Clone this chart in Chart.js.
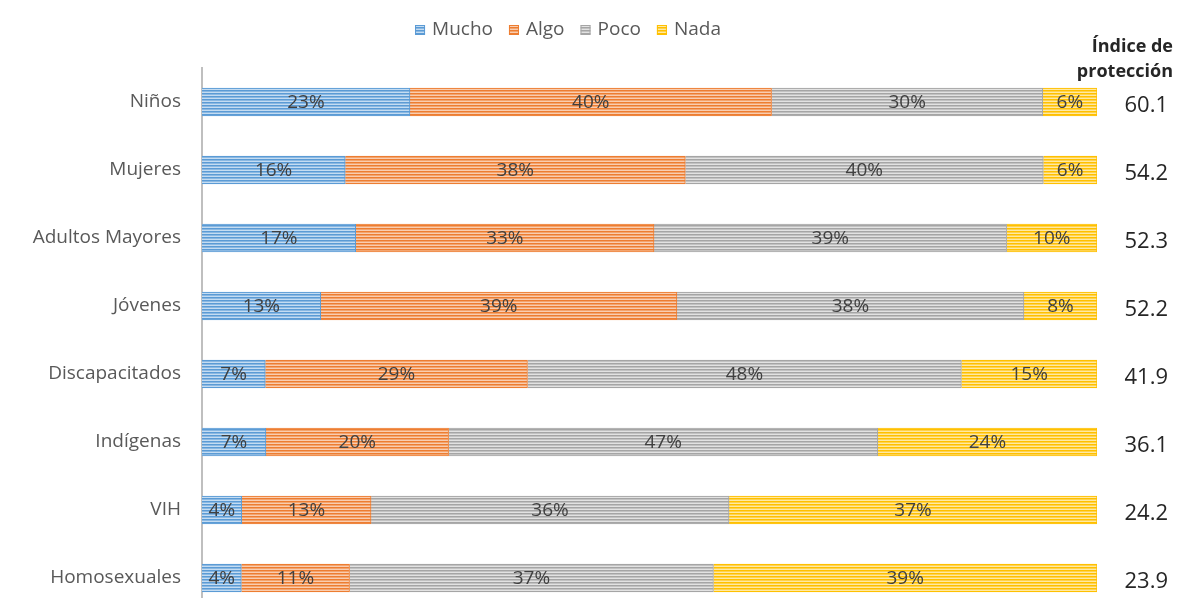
<!DOCTYPE html>
<html>
<head>
<meta charset="utf-8">
<script src="https://cdn.jsdelivr.net/npm/chart.js@4.4.1/dist/chart.umd.min.js"></script>
<style>
  html, body { margin: 0; padding: 0; background: #fff; overflow: hidden; }
  #wrap { position: relative; width: 1178px; height: 620px; }
</style>
</head>
<body>
<div id="wrap"><canvas id="chart"></canvas></div>
<script>
// Data
const groups = ["Niños", "Mujeres", "Adultos Mayores", "Jóvenes", "Discapacitados", "Indígenas", "VIH", "Homosexuales"];
const mucho = [23, 16, 17, 13, 7, 7, 4, 4];
const algo = [40, 38, 33, 39, 29, 20, 13, 11];
const poco = [30, 40, 39, 38, 48, 47, 36, 37];
const nada = [6, 6, 10, 8, 15, 24, 37, 39];
const protectionIndex = [60.1, 54.2, 52.3, 52.2, 41.9, 36.1, 24.2, 23.9];
const seriesNames = ["Mucho", "Algo", "Poco", "Nada"];

const FONT = '"Open Sans", sans-serif';
const baseColors = ["#5b9bd5", "#ed7d31", "#a5a5a5", "#ffc000"];
const midColors = ["#8ab8e2", "#f3a46e", "#c2c2c2", "#ffd24d"];
const lightColors = ["#c4dcf2", "#f9cdb0", "#e2e2e2", "#ffe9a3"];

// Striped fills
function stripes(i) {
  const c = document.createElement("canvas");
  c.width = 3;
  c.height = 3;
  const g = c.getContext("2d");
  g.fillStyle = baseColors[i];
  g.fillRect(0, 0, 3, 1);
  g.fillStyle = midColors[i];
  g.fillRect(0, 1, 3, 1);
  g.fillStyle = lightColors[i];
  g.fillRect(0, 2, 3, 1);
  return document.getElementById("chart").getContext("2d").createPattern(c, "repeat");
}

const fills = baseColors.map((c, i) => stripes(i));

// bars are shown as shares of the four answers
const rows = [mucho, algo, poco, nada];
const totals = groups.map((g, i) => rows.reduce((s, r) => s + r[i], 0));
function share(values) {
  return values.map((v, i) => (v / totals[i]) * 100);
}

// Labels inside bars
const barLabels = {
  id: "barLabels",
  afterDatasetsDraw(chart) {
    const ctx = chart.ctx;
    ctx.save();
    ctx.font = "19px " + FONT;
    ctx.fillStyle = "#404040";
    ctx.textAlign = "center";
    ctx.textBaseline = "middle";
    chart.data.datasets.forEach((ds, i) => {
      chart.getDatasetMeta(i).data.forEach((bar, j) => {
        ctx.fillText(ds.raw[j] + "%", (bar.x + bar.base) / 2, bar.y + 1);
      });
    });
    ctx.restore();
  },
};

// Legend and protection index column
const extras = {
  id: "extras",
  afterDraw(chart) {
    const ctx = chart.ctx;
    const yScale = chart.scales.y;
    ctx.save();

    // legend
    ctx.font = "19px " + FONT;
    ctx.textBaseline = "middle";
    const box = 10, gap = 7, itemGap = 16;
    const widths = seriesNames.map((n) => box + gap + ctx.measureText(n).width);
    const total = widths.reduce((a, b) => a + b, 0) + itemGap * (seriesNames.length - 1);
    let x = 568 - total / 2;
    seriesNames.forEach((name, i) => {
      ctx.fillStyle = fills[i];
      ctx.fillRect(x, 25, box, box);
      ctx.strokeStyle = baseColors[i];
      ctx.lineWidth = 1;
      ctx.strokeRect(x + 0.5, 25.5, box - 1, box - 1);
      ctx.fillStyle = "#595959";
      ctx.textAlign = "left";
      ctx.fillText(name, x + box + gap, 30);
      x += widths[i] + itemGap;
    });

    // heading
    ctx.font = "bold 18px " + FONT;
    ctx.fillStyle = "#262626";
    ctx.textAlign = "right";
    ctx.fillText("Índice de", 1173, 47);
    ctx.fillText("protección", 1173, 72);

    // index values
    ctx.font = "22px " + FONT;
    protectionIndex.forEach((v, i) => {
      ctx.fillText(v.toFixed(1), 1168, yScale.getPixelForValue(i) + 4);
    });
    ctx.restore();
  },
};

const datasets = rows.map((r, i) => ({
  label: seriesNames[i],
  data: share(r),
  raw: r,
  backgroundColor: fills[i],
  borderColor: baseColors[i],
  borderWidth: 1,
  barThickness: 28,
}));

new Chart(document.getElementById("chart"), {
  type: "bar",
  data: { labels: groups, datasets },
  options: {
    indexAxis: "y",
    responsive: true,
    maintainAspectRatio: false,
    devicePixelRatio: 1,
    animation: false,
    layout: { padding: { top: 68, right: 81, bottom: 8, left: 0 } },
    plugins: {
      legend: { display: false },
      tooltip: { enabled: false },
    },
    scales: {
      x: { stacked: true, display: false, min: 0, max: 100 },
      y: {
        stacked: true,
        grid: { display: false, drawTicks: false },
        border: { color: "#bfbfbf", width: 2 },
        ticks: { color: "#595959", font: { size: 19, family: FONT }, padding: 21 },
        afterFit(scale) {
          scale.width = 202;
          // rows keep a fixed pitch, so drop the label overhang padding
          scale.paddingTop = 0;
          scale.paddingBottom = 0;
        },
      },
    },
  },
  plugins: [barLabels, extras],
});
</script>
</body>
</html>
